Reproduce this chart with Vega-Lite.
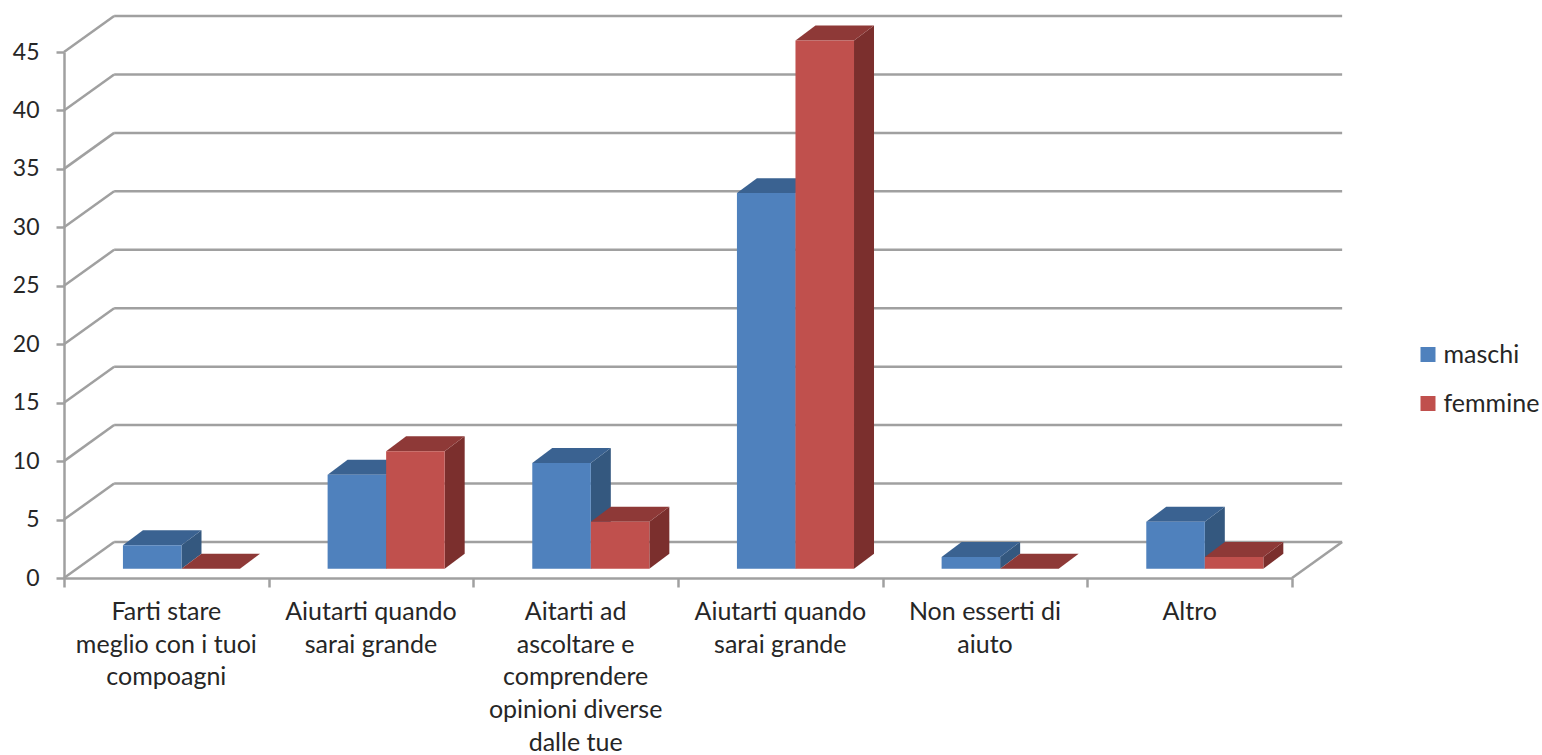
{
"$schema":"https://vega.github.io/schema/vega-lite/v6.json",
"width":1228,"height":526,
"padding":{"left":64,"top":52,"right":250,"bottom":177},
"autosize":"none",
"background":"white",
"config":{"view":{"stroke":null},"font":"Lato"},
"datasets":{
"bars":[
{"n":1,"cat":"Farti stare\nmeglio con i tuoi\ncompoagni","series":"maschi","value":2},
{"n":1,"cat":"Farti stare\nmeglio con i tuoi\ncompoagni","series":"femmine","value":0},
{"n":2,"cat":"Aiutarti quando\nsarai grande","series":"maschi","value":8},
{"n":2,"cat":"Aiutarti quando\nsarai grande","series":"femmine","value":10},
{"n":3,"cat":"Aitarti ad\nascoltare e\ncomprendere\nopinioni diverse\ndalle tue","series":"maschi","value":9},
{"n":3,"cat":"Aitarti ad\nascoltare e\ncomprendere\nopinioni diverse\ndalle tue","series":"femmine","value":4},
{"n":4,"cat":"Aiutarti quando\nsarai grande","series":"maschi","value":32},
{"n":4,"cat":"Aiutarti quando\nsarai grande","series":"femmine","value":45},
{"n":5,"cat":"Non esserti di\naiuto","series":"maschi","value":1},
{"n":5,"cat":"Non esserti di\naiuto","series":"femmine","value":0},
{"n":6,"cat":"Altro","series":"maschi","value":4},
{"n":6,"cat":"Altro","series":"femmine","value":1}
],
"grid":[{"v":0},{"v":5},{"v":10},{"v":15},{"v":20},{"v":25},{"v":30},{"v":35},{"v":40},{"v":45}]
},
"layer":[
{"data":{"name":"grid"},
 "transform":[{"calculate":"datum.v+3.08","as":"vb"}],
 "mark":{"type":"rule","color":"#A0A0A0","strokeWidth":2.5},
 "encoding":{
  "x":{"datum":0.245,"type":"quantitative","scale":{"domain":[0,6]},"title":null,
       "axis":{"values":[0,1,2,3,4,5,6],"labels":false,"grid":false,"domainColor":"#A0A0A0","domainWidth":2.5,"tickColor":"#A0A0A0","tickWidth":2.5,"tickSize":9,"title":null}},
  "x2":{"datum":6.245},
  "y":{"field":"vb","type":"quantitative","scale":{"domain":[0,45],"nice":false,"zero":false},"title":null,
       "axis":{"values":[0,5,10,15,20,25,30,35,40,45],"grid":false,"domainColor":"#A0A0A0","domainWidth":2.5,"tickColor":"#A0A0A0","tickWidth":2.5,"tickSize":8,"labelFont":"Lato","labelFontSize":23,"labelColor":"#262626","labelPadding":17,"title":null}}
 }},
{"data":{"name":"grid"},
 "transform":[{"calculate":"datum.v+3.08","as":"vb"}],
 "mark":{"type":"rule","color":"#A0A0A0","strokeWidth":2.5},
 "encoding":{
  "x":{"datum":0,"type":"quantitative","scale":{"domain":[0,6]}},
  "x2":{"datum":0.245},
  "y":{"field":"v","type":"quantitative","scale":{"domain":[0,45],"nice":false,"zero":false}},
  "y2":{"field":"vb"}
 }},
{"data":{"name":"grid"},
 "transform":[{"filter":"datum.v==0"},{"calculate":"datum.v+3.08","as":"vb"}],
 "mark":{"type":"rule","color":"#A0A0A0","strokeWidth":2.5},
 "encoding":{
  "x":{"datum":6,"type":"quantitative","scale":{"domain":[0,6]}},
  "x2":{"datum":6.245},
  "y":{"field":"v","type":"quantitative","scale":{"domain":[0,45],"nice":false,"zero":false}},
  "y2":{"field":"vb"}
 }},
{"data":{"name":"bars"},
 "transform":[{"filter":"datum.series=='maschi'"},
  {"calculate":"datum.n-1+0.288","as":"x0"},{"calculate":"datum.x0+0.286","as":"x1"},{"calculate":"0.8+datum.value*1.004","as":"yt"},
  {"calculate":"[0,1,2,3]","as":"k"},{"flatten":["k"]},
  {"calculate":"datum.k<2?datum.x1:datum.x1+0.0977","as":"px"},
  {"calculate":"datum.k==0?datum.yt:datum.k==1?0.8:datum.k==2?2.08:datum.yt+1.28","as":"py"}],
 "mark":{"type":"line","fill":"#34587F","stroke":null,"interpolate":"linear-closed"},
 "encoding":{
  "x":{"field":"px","type":"quantitative","scale":{"domain":[0,6]}},
  "y":{"field":"py","type":"quantitative","scale":{"domain":[0,45],"nice":false,"zero":false}},
  "detail":{"field":"n"},"order":{"field":"k"}
 }},
{"data":{"name":"bars"},
 "transform":[{"filter":"datum.series=='maschi'"},
  {"calculate":"datum.n-1+0.288","as":"x0"},{"calculate":"datum.x0+0.286","as":"x1"},{"calculate":"0.8+datum.value*1.004","as":"yt"},
  {"calculate":"[0,1,2,3]","as":"k"},{"flatten":["k"]},
  {"calculate":"datum.k==0?datum.x0:datum.k==1?datum.x1:datum.k==2?datum.x1+0.0977:datum.x0+0.0977","as":"px"},
  {"calculate":"datum.k<2?datum.yt:datum.yt+1.28","as":"py"}],
 "mark":{"type":"line","fill":"#3A6291","stroke":null,"interpolate":"linear-closed"},
 "encoding":{
  "x":{"field":"px","type":"quantitative","scale":{"domain":[0,6]}},
  "y":{"field":"py","type":"quantitative","scale":{"domain":[0,45],"nice":false,"zero":false}},
  "detail":{"field":"n"},"order":{"field":"k"}
 }},
{"data":{"name":"bars"},
 "transform":[{"filter":"datum.series=='maschi'"},
  {"calculate":"datum.n-1+0.288","as":"x0"},{"calculate":"datum.x0+0.286","as":"x1"},{"calculate":"0.8+datum.value*1.004","as":"yt"},{"calculate":"0.8","as":"yb"}],
 "mark":{"type":"rect"},
 "encoding":{
  "x":{"field":"x0","type":"quantitative","scale":{"domain":[0,6]}},
  "x2":{"field":"x1"},
  "y":{"field":"yt","type":"quantitative","scale":{"domain":[0,45],"nice":false,"zero":false}},
  "y2":{"field":"yb"},
  "color":{"field":"series","type":"nominal","scale":{"domain":["maschi","femmine"],"range":["#4F81BD","#C0504D"]},
   "legend":{"title":null,"orient":"none","legendX":1351.5,"legendY":290,"symbolType":"square","symbolSize":225,"symbolStrokeWidth":0,"symbolOpacity":1,"labelFont":"Lato","labelFontSize":25,"labelColor":"#262626","labelOffset":3,"rowPadding":23}}
 }},
{"data":{"name":"bars"},
 "transform":[{"filter":"datum.series=='femmine'"},
  {"calculate":"datum.n-1+0.574","as":"x0"},{"calculate":"datum.x0+0.286","as":"x1"},{"calculate":"0.8+datum.value*1.004","as":"yt"},
  {"calculate":"[0,1,2,3]","as":"k"},{"flatten":["k"]},
  {"calculate":"datum.k<2?datum.x1:datum.x1+0.0977","as":"px"},
  {"calculate":"datum.k==0?datum.yt:datum.k==1?0.8:datum.k==2?2.08:datum.yt+1.28","as":"py"}],
 "mark":{"type":"line","fill":"#7B2F2D","stroke":null,"interpolate":"linear-closed"},
 "encoding":{
  "x":{"field":"px","type":"quantitative","scale":{"domain":[0,6]}},
  "y":{"field":"py","type":"quantitative","scale":{"domain":[0,45],"nice":false,"zero":false}},
  "detail":{"field":"n"},"order":{"field":"k"}
 }},
{"data":{"name":"bars"},
 "transform":[{"filter":"datum.series=='femmine'"},
  {"calculate":"datum.n-1+0.574","as":"x0"},{"calculate":"datum.x0+0.286","as":"x1"},{"calculate":"0.8+datum.value*1.004","as":"yt"},
  {"calculate":"[0,1,2,3]","as":"k"},{"flatten":["k"]},
  {"calculate":"datum.k==0?datum.x0:datum.k==1?datum.x1:datum.k==2?datum.x1+0.0977:datum.x0+0.0977","as":"px"},
  {"calculate":"datum.k<2?datum.yt:datum.yt+1.28","as":"py"}],
 "mark":{"type":"line","fill":"#8E3937","stroke":null,"interpolate":"linear-closed"},
 "encoding":{
  "x":{"field":"px","type":"quantitative","scale":{"domain":[0,6]}},
  "y":{"field":"py","type":"quantitative","scale":{"domain":[0,45],"nice":false,"zero":false}},
  "detail":{"field":"n"},"order":{"field":"k"}
 }},
{"data":{"name":"bars"},
 "transform":[{"filter":"datum.series=='femmine'"},
  {"calculate":"datum.n-1+0.574","as":"x0"},{"calculate":"datum.x0+0.286","as":"x1"},{"calculate":"0.8+datum.value*1.004","as":"yt"},{"calculate":"0.8","as":"yb"}],
 "mark":{"type":"rect"},
 "encoding":{
  "x":{"field":"x0","type":"quantitative","scale":{"domain":[0,6]}},
  "x2":{"field":"x1"},
  "y":{"field":"yt","type":"quantitative","scale":{"domain":[0,45],"nice":false,"zero":false}},
  "y2":{"field":"yb"},
  "color":{"field":"series","type":"nominal","scale":{"domain":["maschi","femmine"],"range":["#4F81BD","#C0504D"]}}
 }},
{"data":{"name":"bars"},
 "transform":[{"filter":"datum.series=='maschi'"},{"calculate":"datum.n-0.5","as":"xc"}],
 "mark":{"type":"text","font":"Lato","fontSize":25,"color":"#262626","lineBreak":"\n","lineHeight":32.6,"baseline":"top","align":"center"},
 "encoding":{
  "x":{"field":"xc","type":"quantitative","scale":{"domain":[0,6]}},
  "y":{"datum":-1.9,"type":"quantitative","scale":{"domain":[0,45],"nice":false,"zero":false}},
  "text":{"field":"cat"}
 }}
]
}
